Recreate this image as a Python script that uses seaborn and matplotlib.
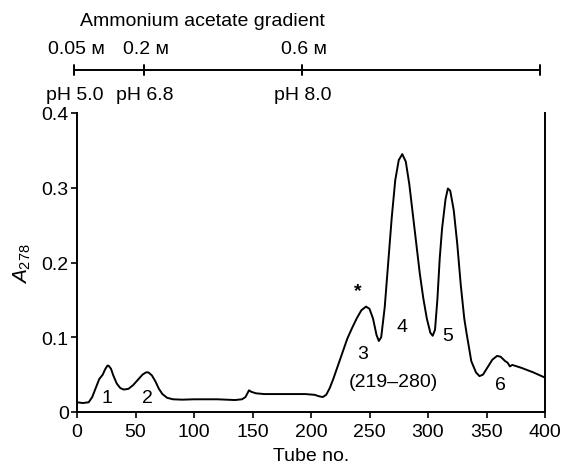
import matplotlib
matplotlib.use("Agg")
import matplotlib.pyplot as plt
import seaborn as sns
import pandas as pd

# ---------------- data ----------------
tube = [0, 5, 10, 13, 16, 19, 20, 22, 24, 26, 27, 29, 31, 34, 37, 40, 44, 48, 52, 56,
        59, 61, 64, 67, 70, 73, 77, 82, 90, 100, 120, 135, 141, 144, 146, 147, 149, 153,
        160, 180, 195, 203, 207, 210, 213, 216, 219, 223, 227, 231, 235, 239, 243, 247,
        250, 253, 256, 258, 260, 263, 266, 269, 272, 275, 278, 281, 284, 287, 290, 293,
        296, 299, 302, 304, 306, 308, 310, 312, 315, 317, 319, 322, 325, 328, 331, 333,
        337, 341, 344, 347, 351, 355, 359, 362, 366, 368, 370, 372, 380, 390, 400]
absorb = [0.013, 0.012, 0.013, 0.020, 0.032, 0.044, 0.046, 0.050, 0.057, 0.062, 0.062,
          0.058, 0.049, 0.038, 0.032, 0.030, 0.031, 0.036, 0.043, 0.050, 0.053, 0.053,
          0.049, 0.041, 0.031, 0.024, 0.019, 0.017, 0.0165, 0.017, 0.017, 0.016, 0.017,
          0.020, 0.026, 0.029, 0.027, 0.025, 0.024, 0.024, 0.024, 0.023, 0.021, 0.020,
          0.023, 0.032, 0.044, 0.062, 0.080, 0.098, 0.112, 0.125, 0.136, 0.141, 0.138,
          0.125, 0.103, 0.095, 0.100, 0.140, 0.200, 0.260, 0.310, 0.337, 0.345, 0.335,
          0.305, 0.265, 0.225, 0.185, 0.152, 0.125, 0.106, 0.102, 0.110, 0.150, 0.205,
          0.245, 0.285, 0.299, 0.296, 0.270, 0.225, 0.170, 0.125, 0.105, 0.068, 0.053,
          0.048, 0.050, 0.060, 0.070, 0.075, 0.074, 0.068, 0.066, 0.061, 0.063, 0.059,
          0.053, 0.046]

peak_labels = ["1", "2", "*", "3", "(219\u2013280)", "4", "5", "6"]
peak_x = [26, 60.5, 240, 244.5, 270, 278, 317, 361.5]
peak_y = [0.019, 0.019, 0.163, 0.078, 0.041, 0.114, 0.102, 0.037]

grad_pos = [-2.5, 57, 192, 396]
conc_labels = ["0.05 \u1d0d", "0.2 \u1d0d", "0.6 \u1d0d", ""]
ph_labels = ["pH 5.0", "pH 6.8", "pH 8.0", ""]

x_ticks = [0, 50, 100, 150, 200, 250, 300, 350, 400]
y_ticks = [0, 0.1, 0.2, 0.3, 0.4]
y_ticklabels = ["0", "0.1", "0.2", "0.3", "0.4"]

# ---------------- style ----------------
sns.set_theme(style="ticks")
plt.rcParams["font.family"] = ["Liberation Sans", "DejaVu Sans"]
plt.rcParams["mathtext.fontset"] = "custom"
plt.rcParams["mathtext.it"] = "Liberation Sans:italic"
plt.rcParams["mathtext.rm"] = "Liberation Sans"

FS = 14
W, H = 566, 464
fig = plt.figure(figsize=(W / 100, H / 100), dpi=100)
fig.patch.set_facecolor("white")

ax = fig.add_axes([77 / W, 51 / H, 468 / W, 299 / H])
df = pd.DataFrame({"tube": tube, "A": absorb})
sns.lineplot(data=df, x="tube", y="A", ax=ax, color="black", lw=1.4,
             sort=False, estimator=None)

ax.set_xlim(0, 400)
ax.set_ylim(0, 0.4)
ax.set_xticks(x_ticks)
ax.set_yticks(y_ticks)
ax.set_yticklabels(y_ticklabels)
ax.tick_params(axis="both", labelsize=FS, length=4, width=1.2, color="black",
               labelcolor="black", pad=2)
ax.tick_params(axis="x", pad=4)
for side in ["left", "bottom", "right"]:
    ax.spines[side].set_visible(True)
    ax.spines[side].set_color("black")
    ax.spines[side].set_linewidth(1.4)
ax.spines["top"].set_visible(False)
ax.set_xlabel("Tube no.", fontsize=FS, color="black", labelpad=5)
ax.set_ylabel(r"$\mathit{A}_{\mathrm{278}}$", fontsize=15, color="black", labelpad=6)

for lab, px, py in zip(peak_labels, peak_x, peak_y):
    ax.text(px, py, lab, fontsize=FS, color="black", ha="center", va="center",
            fontweight="bold" if lab == "*" else "normal")

# ---------------- gradient bar ----------------
axg = fig.add_axes([77 / W, (H - 110) / H, 468 / W, 110 / H])
axg.set_xlim(0, 400)
axg.set_ylim(110, 0)
axg.axis("off")
axg.plot([grad_pos[0], grad_pos[-1]], [71, 71], color="black", lw=1.4, clip_on=False)
for gx, cl, pl in zip(grad_pos, conc_labels, ph_labels):
    axg.plot([gx, gx], [66, 76], color="black", lw=1.4, clip_on=False)
    if cl:
        axg.text(gx + 2, 50, cl, fontsize=FS, ha="center", va="center", color="black",
                 clip_on=False)
    if pl:
        axg.text(gx + 1, 96, pl, fontsize=FS, ha="center", va="center", color="black",
                 clip_on=False)
axg.text(2.5, 22, "Ammonium acetate gradient", fontsize=FS, ha="left", va="center",
         color="black", clip_on=False)

fig.savefig("out.png", dpi=100, facecolor="white")
